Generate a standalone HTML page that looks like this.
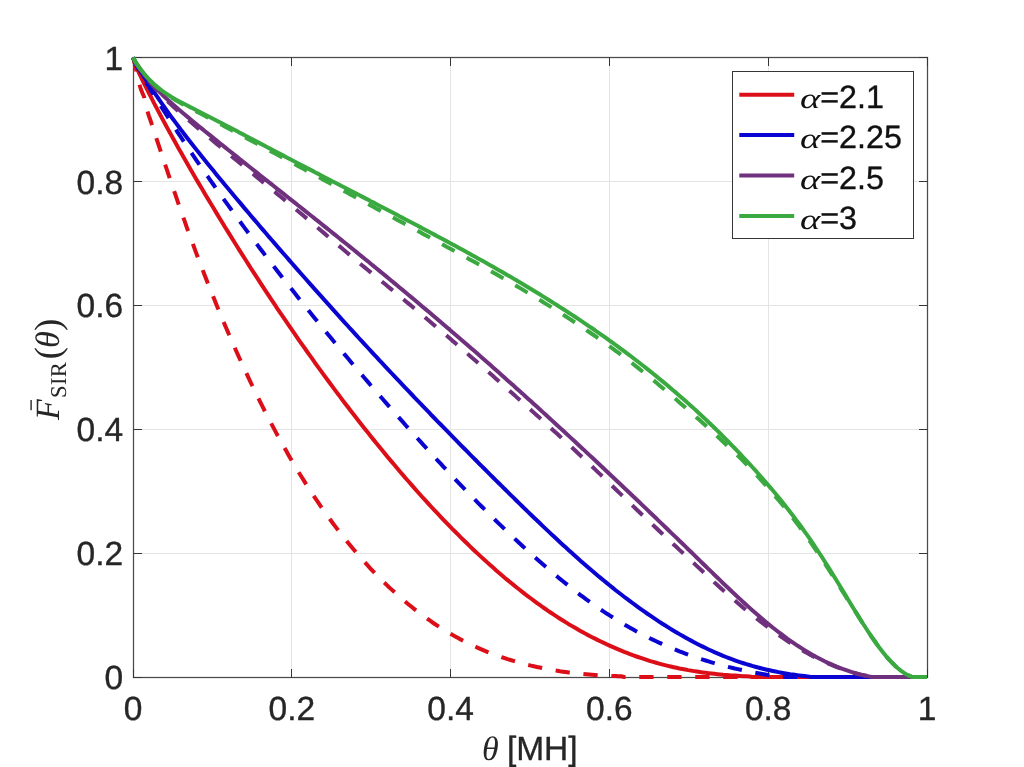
<!DOCTYPE html>
<html lang="en"><head><meta charset="utf-8"><title>SIR ccdf plot</title>
<style>
html,body{margin:0;padding:0;background:#fff;}
body{width:1024px;height:767px;overflow:hidden;}
svg{display:block;}
text{text-rendering:geometricPrecision;}
svg{will-change:transform;transform:translateZ(0);}
.t{font-family:"Liberation Sans", Arial, Helvetica, sans-serif;font-size:33.5px;fill:#262626;stroke:#262626;stroke-width:0.35px;}
.lg{font-family:"Liberation Sans", Arial, Helvetica, sans-serif;font-size:32.3px;fill:#111;stroke:#111;stroke-width:0.35px;}
.m{font-family:"Liberation Serif", "DejaVu Serif", serif;font-style:italic;}
.r{font-family:"Liberation Serif", "DejaVu Serif", serif;font-style:normal;}
</style></head><body>
<svg width="1024" height="767" viewBox="0 0 1024 767">
<rect width="1024" height="767" fill="#ffffff"/>

<g stroke="#e4e4e4" stroke-width="1" fill="none">
<line x1="291.50" y1="58" x2="291.50" y2="677"/>
<line x1="134" y1="553.50" x2="927" y2="553.50"/>
<line x1="450.50" y1="58" x2="450.50" y2="677"/>
<line x1="134" y1="429.50" x2="927" y2="429.50"/>
<line x1="609.50" y1="58" x2="609.50" y2="677"/>
<line x1="134" y1="305.50" x2="927" y2="305.50"/>
<line x1="768.50" y1="58" x2="768.50" y2="677"/>
<line x1="134" y1="181.50" x2="927" y2="181.50"/>
</g>
<rect x="133.5" y="57.5" width="794" height="620" fill="none" stroke="#4a4a4a" stroke-width="1.25"/>
<g stroke="#363636" stroke-width="1">
<line x1="133.50" y1="677.5" x2="133.50" y2="669.0"/>
<line x1="133.50" y1="57.5" x2="133.50" y2="66.0"/>
<line x1="133.5" y1="677.50" x2="142.0" y2="677.50"/>
<line x1="927.5" y1="677.50" x2="919.0" y2="677.50"/>
<line x1="291.50" y1="677.5" x2="291.50" y2="669.0"/>
<line x1="291.50" y1="57.5" x2="291.50" y2="66.0"/>
<line x1="133.5" y1="553.50" x2="142.0" y2="553.50"/>
<line x1="927.5" y1="553.50" x2="919.0" y2="553.50"/>
<line x1="450.50" y1="677.5" x2="450.50" y2="669.0"/>
<line x1="450.50" y1="57.5" x2="450.50" y2="66.0"/>
<line x1="133.5" y1="429.50" x2="142.0" y2="429.50"/>
<line x1="927.5" y1="429.50" x2="919.0" y2="429.50"/>
<line x1="609.50" y1="677.5" x2="609.50" y2="669.0"/>
<line x1="609.50" y1="57.5" x2="609.50" y2="66.0"/>
<line x1="133.5" y1="305.50" x2="142.0" y2="305.50"/>
<line x1="927.5" y1="305.50" x2="919.0" y2="305.50"/>
<line x1="768.50" y1="677.5" x2="768.50" y2="669.0"/>
<line x1="768.50" y1="57.5" x2="768.50" y2="66.0"/>
<line x1="133.5" y1="181.50" x2="142.0" y2="181.50"/>
<line x1="927.5" y1="181.50" x2="919.0" y2="181.50"/>
<line x1="927.50" y1="677.5" x2="927.50" y2="669.0"/>
<line x1="927.50" y1="57.5" x2="927.50" y2="66.0"/>
<line x1="133.5" y1="57.50" x2="142.0" y2="57.50"/>
<line x1="927.5" y1="57.50" x2="919.0" y2="57.50"/>
</g>
<!--CURVES-->
<clipPath id="cp"><rect x="131.0" y="55.5" width="798.0" height="623.5"/></clipPath>
<g fill="none" stroke-width="4" stroke-linejoin="round" clip-path="url(#cp)">
<path stroke="#dc0f18" d="M133.00 57.50 L134.59 62.52 L136.18 66.48 L137.76 70.14 L139.35 73.61 L140.94 77.01 L142.53 80.30 L144.12 83.52 L145.70 86.74 L147.29 89.90 L148.88 93.00 L150.47 96.16 L152.06 99.19 L153.64 102.29 L155.23 105.33 L156.82 108.36 L158.41 111.33 L160.00 114.37 L161.58 117.34 L163.17 120.32 L164.76 123.23 L166.35 126.20 L167.94 129.11 L169.52 132.03 L171.11 134.88 L172.70 137.79 L175.64 142.99 L178.50 148.19 L181.43 153.34 L184.37 158.48 L187.23 163.56 L190.17 168.64 L193.11 173.66 L195.96 178.67 L198.90 183.63 L201.84 188.52 L204.70 193.48 L207.64 198.37 L210.57 203.21 L213.51 208.04 L216.37 212.87 L219.31 217.70 L222.25 222.47 L225.10 227.18 L228.04 231.89 L230.98 236.60 L233.84 241.31 L236.78 245.95 L239.71 250.60 L242.57 255.18 L245.51 259.77 L248.45 264.35 L251.31 268.94 L254.24 273.46 L257.18 277.92 L260.04 282.38 L262.98 286.84 L265.92 291.30 L268.77 295.70 L271.71 300.10 L274.65 304.43 L277.51 308.83 L280.45 313.11 L283.38 317.44 L286.32 321.72 L289.18 325.93 L292.12 330.20 L295.06 334.42 L297.91 338.57 L300.85 342.78 L303.79 346.93 L306.65 351.02 L309.59 355.11 L312.52 359.20 L315.38 363.29 L318.32 367.31 L321.26 371.34 L324.12 375.30 L327.05 379.27 L329.99 383.23 L332.85 387.14 L335.79 391.10 L338.73 394.94 L341.58 398.84 L344.52 402.69 L347.46 406.46 L350.32 410.31 L353.26 414.02 L356.19 417.80 L359.05 421.52 L361.99 425.24 L364.93 428.95 L367.87 432.61 L370.72 436.26 L373.66 439.86 L376.60 443.45 L379.46 447.04 L382.40 450.57 L385.33 454.10 L388.19 457.64 L391.13 461.10 L394.07 464.57 L396.93 468.04 L399.86 471.45 L402.80 474.86 L405.66 478.20 L408.60 481.55 L411.54 484.89 L414.39 488.18 L417.33 491.46 L420.27 494.74 L423.13 497.96 L426.07 501.12 L429.00 504.35 L431.86 507.50 L434.80 510.60 L437.74 513.70 L440.68 516.80 L443.53 519.83 L446.47 522.87 L449.41 525.90 L452.27 528.88 L455.21 531.79 L458.14 534.70 L461.00 537.61 L463.94 540.46 L466.88 543.31 L469.74 546.16 L472.67 548.95 L475.61 551.68 L478.47 554.40 L481.41 557.13 L484.35 559.79 L487.20 562.39 L490.14 565.06 L493.08 567.60 L495.94 570.20 L498.88 572.68 L501.81 575.22 L504.67 577.69 L507.61 580.11 L510.55 582.53 L513.48 584.88 L516.34 587.23 L519.28 589.53 L522.22 591.82 L525.08 594.11 L528.01 596.34 L530.95 598.51 L533.81 600.68 L536.75 602.78 L539.69 604.89 L542.55 607.00 L545.48 608.98 L548.42 611.02 L551.28 613.01 L554.22 614.93 L557.15 616.85 L560.01 618.71 L562.95 620.56 L565.89 622.36 L568.75 624.16 L571.68 625.89 L574.62 627.56 L577.48 629.24 L580.42 630.91 L583.36 632.52 L586.22 634.13 L589.15 635.68 L592.09 637.17 L595.03 638.65 L597.89 640.14 L600.82 641.56 L603.76 642.93 L606.62 644.29 L609.56 645.65 L612.50 646.95 L615.36 648.19 L618.29 649.43 L621.23 650.67 L624.09 651.85 L627.03 652.96 L629.96 654.08 L632.82 655.19 L635.76 656.25 L638.70 657.24 L641.56 658.23 L644.49 659.22 L647.43 660.15 L650.29 661.08 L653.23 661.95 L656.17 662.75 L659.02 663.56 L661.96 664.36 L664.90 665.11 L667.84 665.85 L670.70 666.53 L673.63 667.21 L676.57 667.83 L679.43 668.45 L682.37 669.01 L685.31 669.57 L688.16 670.12 L691.10 670.62 L694.04 671.11 L696.90 671.55 L699.84 671.98 L702.77 672.42 L705.63 672.79 L708.57 673.16 L711.51 673.53 L714.37 673.84 L717.30 674.15 L720.24 674.40 L723.10 674.71 L726.04 674.96 L728.98 675.20 L731.83 675.39 L734.77 675.58 L737.71 675.76 L740.65 675.95 L743.51 676.13 L746.44 676.26 L749.38 676.38 L752.24 677.00 L755.18 677.00 L758.12 677.00 L760.97 677.00 L763.91 677.00 L766.85 677.00 L769.71 677.00 L772.65 677.00 L775.58 677.00 L778.44 677.00 L781.38 677.00 L784.32 677.00 L787.18 677.00 L790.11 677.00 L793.05 677.00 L795.91 677.00 L798.85 677.00 L801.79 677.00 L804.64 677.00 L807.58 677.00 L810.52 677.00 L813.38 677.00 L816.32 677.00 L819.25 677.00 L822.19 677.00 L825.05 677.00 L827.99 677.00 L830.93 677.00 L833.78 677.00 L836.72 677.00 L839.66 677.00 L842.52 677.00 L845.46 677.00 L848.39 677.00 L851.25 677.00 L854.19 677.00 L857.13 677.00 L859.99 677.00 L862.92 677.00 L865.86 677.00 L868.72 677.00 L871.66 677.00 L874.60 677.00 L877.45 677.00 L880.39 677.00 L883.33 677.00 L886.19 677.00 L889.13 677.00 L892.06 677.00 L895.00 677.00 L897.86 677.00 L900.80 677.00 L903.74 677.00 L906.59 677.00 L909.53 677.00 L912.47 677.00 L915.33 677.00 L918.27 677.00 L921.20 677.00 L924.06 677.00 L927.00 677.00"/>
<path stroke="#dc0f18" stroke-dasharray="14.3 13.7" d="M133.00 57.50 L134.59 62.70 L136.18 70.01 L137.76 77.45 L139.35 84.14 L140.94 89.53 L142.53 93.25 L144.12 97.02 L145.70 103.34 L147.29 110.65 L148.88 115.86 L150.47 120.26 L152.06 125.03 L153.64 129.92 L155.23 134.75 L156.82 139.58 L158.41 144.42 L160.00 149.19 L161.58 153.96 L163.17 158.73 L164.76 163.50 L166.35 168.20 L167.94 172.91 L169.52 177.62 L171.11 182.27 L172.70 186.91 L175.64 195.40 L178.50 203.83 L181.43 212.13 L184.37 220.37 L187.23 228.54 L190.17 236.60 L193.11 244.53 L195.96 252.39 L198.90 260.14 L201.84 267.76 L204.70 275.32 L207.64 282.75 L210.57 290.12 L213.51 297.37 L216.37 304.56 L219.31 311.62 L222.25 318.62 L225.10 325.50 L228.04 332.31 L230.98 339.06 L233.84 345.69 L236.78 352.20 L239.71 358.70 L242.57 365.08 L245.51 371.40 L248.45 377.60 L251.31 383.73 L254.24 389.80 L257.18 395.75 L260.04 401.63 L262.98 407.46 L265.92 413.22 L268.77 418.85 L271.71 424.43 L274.65 429.88 L277.51 435.33 L280.45 440.66 L283.38 445.93 L286.32 451.07 L289.18 456.15 L292.12 461.17 L295.06 466.12 L297.91 470.95 L300.85 475.72 L303.79 480.43 L306.65 485.08 L309.59 489.60 L312.52 494.06 L315.38 498.46 L318.32 502.73 L321.26 507.01 L324.12 511.16 L327.05 515.25 L329.99 519.28 L332.85 523.24 L335.79 527.14 L338.73 530.98 L341.58 534.70 L344.52 538.42 L347.46 542.07 L350.32 545.60 L353.26 549.07 L356.19 552.54 L359.05 555.89 L361.99 559.23 L364.93 562.45 L367.87 565.68 L370.72 568.77 L373.66 571.87 L376.60 574.91 L379.46 577.88 L382.40 580.73 L385.33 583.58 L388.19 586.43 L391.13 589.15 L394.07 591.82 L396.93 594.42 L399.86 597.02 L402.80 599.56 L405.66 602.04 L408.60 604.46 L411.54 606.81 L414.39 609.10 L417.33 611.39 L420.27 613.63 L423.13 615.79 L426.07 617.90 L429.00 619.94 L431.86 621.99 L434.80 623.97 L437.74 625.89 L440.68 627.75 L443.53 629.61 L446.47 631.34 L449.41 633.08 L452.27 634.81 L455.21 636.42 L458.14 638.03 L461.00 639.64 L463.94 641.13 L466.88 642.62 L469.74 644.04 L472.67 645.41 L475.61 646.77 L478.47 648.07 L481.41 649.37 L484.35 650.61 L487.20 651.79 L490.14 652.96 L493.08 654.08 L495.94 655.13 L498.88 656.18 L501.81 657.24 L504.67 658.17 L507.61 659.16 L510.55 660.03 L513.48 660.95 L516.34 661.82 L519.28 662.63 L522.22 663.43 L525.08 664.18 L528.01 664.92 L530.95 665.60 L533.81 666.28 L536.75 666.96 L539.69 667.58 L542.55 668.14 L545.48 668.70 L548.42 669.26 L551.28 669.81 L554.22 670.31 L557.15 670.74 L560.01 671.24 L562.95 671.67 L565.89 672.04 L568.75 672.48 L571.68 672.79 L574.62 673.16 L577.48 673.47 L580.42 673.78 L583.36 674.09 L586.22 674.34 L589.15 674.58 L592.09 674.83 L595.03 675.02 L597.89 675.27 L600.82 675.39 L603.76 675.58 L606.62 675.76 L609.56 675.88 L612.50 676.01 L615.36 676.07 L618.29 676.19 L621.23 676.26 L624.09 677.00 L627.03 677.00 L629.96 677.00 L632.82 677.00 L635.76 677.00 L638.70 677.00 L641.56 677.00 L644.49 677.00 L647.43 677.00 L650.29 677.00 L653.23 677.00 L656.17 677.00 L659.02 677.00 L661.96 677.00 L664.90 677.00 L667.84 677.00 L670.70 677.00 L673.63 677.00 L676.57 677.00 L679.43 677.00 L682.37 677.00 L685.31 677.00 L688.16 677.00 L691.10 677.00 L694.04 677.00 L696.90 677.00 L699.84 677.00 L702.77 677.00 L705.63 677.00 L708.57 677.00 L711.51 677.00 L714.37 677.00 L717.30 677.00 L720.24 677.00 L723.10 677.00 L726.04 677.00 L728.98 677.00 L731.83 677.00 L734.77 677.00 L737.71 677.00 L740.65 677.00 L743.51 677.00 L746.44 677.00 L749.38 677.00 L752.24 677.00 L755.18 677.00 L758.12 677.00 L760.97 677.00 L763.91 677.00 L766.85 677.00 L769.71 677.00 L772.65 677.00 L775.58 677.00 L778.44 677.00 L781.38 677.00 L784.32 677.00 L787.18 677.00 L790.11 677.00 L793.05 677.00 L795.91 677.00 L798.85 677.00 L801.79 677.00 L804.64 677.00 L807.58 677.00 L810.52 677.00 L813.38 677.00 L816.32 677.00 L819.25 677.00 L822.19 677.00 L825.05 677.00 L827.99 677.00 L830.93 677.00 L833.78 677.00 L836.72 677.00 L839.66 677.00 L842.52 677.00 L845.46 677.00 L848.39 677.00 L851.25 677.00 L854.19 677.00 L857.13 677.00 L859.99 677.00 L862.92 677.00 L865.86 677.00 L868.72 677.00 L871.66 677.00 L874.60 677.00 L877.45 677.00 L880.39 677.00 L883.33 677.00 L886.19 677.00 L889.13 677.00 L892.06 677.00 L895.00 677.00 L897.86 677.00 L900.80 677.00 L903.74 677.00 L906.59 677.00 L909.53 677.00 L912.47 677.00 L915.33 677.00 L918.27 677.00 L921.20 677.00 L924.06 677.00 L927.00 677.00"/>
<path stroke="#0a04d2" d="M133.00 57.50 L134.59 60.91 L136.18 63.88 L137.76 66.67 L139.35 69.33 L140.94 71.87 L142.53 74.41 L144.12 76.95 L145.70 79.43 L147.29 81.85 L148.88 84.32 L150.47 86.74 L152.06 89.09 L153.64 91.51 L155.23 93.86 L156.82 96.22 L158.41 98.51 L160.00 100.87 L161.58 103.16 L163.17 105.39 L164.76 107.68 L166.35 109.91 L167.94 112.14 L169.52 114.31 L171.11 116.54 L172.70 118.71 L175.64 122.61 L178.50 126.51 L181.43 130.35 L184.37 134.19 L187.23 137.97 L190.17 141.69 L193.11 145.41 L195.96 149.12 L198.90 152.78 L201.84 156.43 L204.70 160.09 L207.64 163.68 L210.57 167.28 L213.51 170.81 L216.37 174.40 L219.31 177.93 L222.25 181.46 L225.10 184.99 L228.04 188.46 L230.98 191.99 L233.84 195.46 L236.78 198.93 L239.71 202.40 L242.57 205.87 L245.51 209.34 L248.45 212.75 L251.31 216.22 L254.24 219.62 L257.18 223.03 L260.04 226.44 L262.98 229.84 L265.92 233.25 L268.77 236.66 L271.71 240.00 L274.65 243.41 L277.51 246.76 L280.45 250.10 L283.38 253.45 L286.32 256.79 L289.18 260.14 L292.12 263.48 L295.06 266.83 L297.91 270.11 L300.85 273.46 L303.79 276.74 L306.65 280.02 L309.59 283.31 L312.52 286.59 L315.38 289.87 L318.32 293.16 L321.26 296.44 L324.12 299.66 L327.05 302.95 L329.99 306.17 L332.85 309.39 L335.79 312.67 L338.73 315.89 L341.58 319.11 L344.52 322.27 L347.46 325.50 L350.32 328.72 L353.26 331.88 L356.19 335.10 L359.05 338.26 L361.99 341.42 L364.93 344.58 L367.87 347.74 L370.72 350.90 L373.66 354.05 L376.60 357.15 L379.46 360.31 L382.40 363.41 L385.33 366.51 L388.19 369.60 L391.13 372.76 L394.07 375.86 L396.93 378.90 L399.86 381.99 L402.80 385.09 L405.66 388.13 L408.60 391.22 L411.54 394.26 L414.39 397.30 L417.33 400.33 L420.27 403.37 L423.13 406.40 L426.07 409.44 L429.00 412.47 L431.86 415.51 L434.80 418.48 L437.74 421.52 L440.68 424.49 L443.53 427.47 L446.47 430.44 L449.41 433.47 L452.27 436.45 L455.21 439.42 L458.14 442.33 L461.00 445.31 L463.94 448.28 L466.88 451.19 L469.74 454.17 L472.67 457.08 L475.61 459.99 L478.47 462.96 L481.41 465.87 L484.35 468.79 L487.20 471.70 L490.14 474.61 L493.08 477.52 L495.94 480.37 L498.88 483.28 L501.81 486.19 L504.67 489.04 L507.61 491.89 L510.55 494.81 L513.48 497.65 L516.34 500.50 L519.28 503.35 L522.22 506.20 L525.08 509.05 L528.01 511.84 L530.95 514.69 L533.81 517.48 L536.75 520.27 L539.69 523.05 L542.55 525.84 L545.48 528.63 L548.42 531.36 L551.28 534.08 L554.22 536.81 L557.15 539.53 L560.01 542.26 L562.95 544.92 L565.89 547.59 L568.75 550.25 L571.68 552.85 L574.62 555.45 L577.48 558.06 L580.42 560.66 L583.36 563.20 L586.22 565.74 L589.15 568.28 L592.09 570.76 L595.03 573.23 L597.89 575.71 L600.82 578.13 L603.76 580.54 L606.62 582.90 L609.56 585.25 L612.50 587.61 L615.36 589.96 L618.29 592.25 L621.23 594.48 L624.09 596.71 L627.03 598.94 L629.96 601.11 L632.82 603.28 L635.76 605.45 L638.70 607.55 L641.56 609.66 L644.49 611.70 L647.43 613.75 L650.29 615.73 L653.23 617.71 L656.17 619.63 L659.02 621.55 L661.96 623.48 L664.90 625.27 L667.84 627.13 L670.70 628.93 L673.63 630.66 L676.57 632.46 L679.43 634.13 L682.37 635.80 L685.31 637.48 L688.16 639.09 L691.10 640.64 L694.04 642.18 L696.90 643.67 L699.84 645.16 L702.77 646.64 L705.63 648.01 L708.57 649.43 L711.51 650.80 L714.37 652.10 L717.30 653.34 L720.24 654.57 L723.10 655.81 L726.04 656.99 L728.98 658.11 L731.83 659.22 L734.77 660.27 L737.71 661.33 L740.65 662.32 L743.51 663.25 L746.44 664.18 L749.38 665.04 L752.24 665.91 L755.18 666.72 L758.12 667.52 L760.97 668.27 L763.91 669.01 L766.85 669.69 L769.71 670.31 L772.65 670.93 L775.58 671.55 L778.44 672.11 L781.38 672.66 L784.32 673.16 L787.18 673.65 L790.11 674.15 L793.05 674.58 L795.91 674.96 L798.85 675.39 L801.79 675.76 L804.64 676.07 L807.58 676.38 L810.52 677.00 L813.38 677.00 L816.32 677.00 L819.25 677.00 L822.19 677.00 L825.05 677.00 L827.99 677.00 L830.93 677.00 L833.78 677.00 L836.72 677.00 L839.66 677.00 L842.52 677.00 L845.46 677.00 L848.39 677.00 L851.25 677.00 L854.19 677.00 L857.13 677.00 L859.99 677.00 L862.92 677.00 L865.86 677.00 L868.72 677.00 L871.66 677.00 L874.60 677.00 L877.45 677.00 L880.39 677.00 L883.33 677.00 L886.19 677.00 L889.13 677.00 L892.06 677.00 L895.00 677.00 L897.86 677.00 L900.80 677.00 L903.74 677.00 L906.59 677.00 L909.53 677.00 L912.47 677.00 L915.33 677.00 L918.27 677.00 L921.20 677.00 L924.06 677.00 L927.00 677.00"/>
<path stroke="#0a04d2" stroke-dasharray="14.3 13.7" d="M133.00 57.50 L134.59 61.40 L136.18 64.69 L137.76 67.72 L139.35 70.63 L140.94 73.42 L142.53 76.21 L144.12 78.87 L145.70 81.54 L147.29 84.20 L148.88 86.80 L150.47 89.40 L152.06 92.01 L153.64 94.61 L155.23 97.15 L156.82 99.69 L158.41 102.23 L160.00 104.77 L161.58 107.31 L163.17 109.79 L164.76 112.26 L166.35 114.80 L167.94 117.28 L169.52 119.76 L171.11 122.18 L172.70 124.65 L175.64 129.11 L178.50 133.57 L181.43 137.97 L184.37 142.37 L187.23 146.71 L190.17 151.04 L193.11 155.32 L195.96 159.59 L198.90 163.87 L201.84 168.08 L204.70 172.29 L207.64 176.44 L210.57 180.66 L213.51 184.75 L216.37 188.90 L219.31 192.98 L222.25 197.07 L225.10 201.16 L228.04 205.19 L230.98 209.22 L233.84 213.24 L236.78 217.21 L239.71 221.17 L242.57 225.14 L245.51 229.10 L248.45 233.00 L251.31 236.91 L254.24 240.81 L257.18 244.65 L260.04 248.49 L262.98 252.33 L265.92 256.17 L268.77 259.95 L271.71 263.73 L274.65 267.51 L277.51 271.29 L280.45 275.07 L283.38 278.79 L286.32 282.50 L289.18 286.22 L292.12 289.87 L295.06 293.59 L297.91 297.25 L300.85 300.90 L303.79 304.56 L306.65 308.21 L309.59 311.80 L312.52 315.40 L315.38 318.99 L318.32 322.58 L321.26 326.18 L324.12 329.71 L327.05 333.30 L329.99 336.83 L332.85 340.36 L335.79 343.83 L338.73 347.36 L341.58 350.90 L344.52 354.36 L347.46 357.83 L350.32 361.30 L353.26 364.77 L356.19 368.18 L359.05 371.65 L361.99 375.06 L364.93 378.46 L367.87 381.87 L370.72 385.28 L373.66 388.62 L376.60 392.03 L379.46 395.38 L382.40 398.72 L385.33 402.07 L388.19 405.41 L391.13 408.76 L394.07 412.04 L396.93 415.39 L399.86 418.67 L402.80 421.95 L405.66 425.24 L408.60 428.46 L411.54 431.74 L414.39 434.96 L417.33 438.24 L420.27 441.47 L423.13 444.69 L426.07 447.85 L429.00 451.07 L431.86 454.23 L434.80 457.39 L437.74 460.55 L440.68 463.71 L443.53 466.87 L446.47 469.96 L449.41 473.06 L452.27 476.16 L455.21 479.26 L458.14 482.29 L461.00 485.33 L463.94 488.36 L466.88 491.40 L469.74 494.37 L472.67 497.41 L475.61 500.38 L478.47 503.29 L481.41 506.27 L484.35 509.18 L487.20 512.09 L490.14 515.00 L493.08 517.85 L495.94 520.76 L498.88 523.61 L501.81 526.40 L504.67 529.25 L507.61 532.04 L510.55 534.82 L513.48 537.55 L516.34 540.28 L519.28 543.00 L522.22 545.73 L525.08 548.39 L528.01 551.06 L530.95 553.72 L533.81 556.32 L536.75 558.92 L539.69 561.53 L542.55 564.07 L545.48 566.61 L548.42 569.15 L551.28 571.62 L554.22 574.10 L557.15 576.52 L560.01 578.93 L562.95 581.29 L565.89 583.64 L568.75 586.00 L571.68 588.29 L574.62 590.58 L577.48 592.81 L580.42 595.04 L583.36 597.21 L586.22 599.38 L589.15 601.48 L592.09 603.59 L595.03 605.63 L597.89 607.68 L600.82 609.66 L603.76 611.64 L606.62 613.56 L609.56 615.42 L612.50 617.28 L615.36 619.14 L618.29 620.94 L621.23 622.67 L624.09 624.40 L627.03 626.08 L629.96 627.75 L632.82 629.36 L635.76 630.97 L638.70 632.52 L641.56 634.07 L644.49 635.56 L647.43 637.04 L650.29 638.47 L653.23 639.89 L656.17 641.25 L659.02 642.62 L661.96 643.92 L664.90 645.22 L667.84 646.52 L670.70 647.76 L673.63 648.94 L676.57 650.11 L679.43 651.29 L682.37 652.41 L685.31 653.52 L688.16 654.57 L691.10 655.63 L694.04 656.68 L696.90 657.67 L699.84 658.66 L702.77 659.59 L705.63 660.52 L708.57 661.45 L711.51 662.32 L714.37 663.12 L717.30 663.99 L720.24 664.80 L723.10 665.60 L726.04 666.34 L728.98 667.09 L731.83 667.77 L734.77 668.51 L737.71 669.13 L740.65 669.81 L743.51 670.43 L746.44 671.05 L749.38 671.67 L752.24 672.23 L755.18 672.79 L758.12 673.28 L760.97 673.78 L763.91 674.27 L766.85 674.77 L769.71 675.20 L772.65 675.64 L775.58 676.07 L778.44 676.44 L781.38 677.00 L784.32 677.00 L787.18 677.00 L790.11 677.00 L793.05 677.00 L795.91 677.00 L798.85 677.00 L801.79 677.00 L804.64 677.00 L807.58 677.00 L810.52 677.00 L813.38 677.00 L816.32 677.00 L819.25 677.00 L822.19 677.00 L825.05 677.00 L827.99 677.00 L830.93 677.00 L833.78 677.00 L836.72 677.00 L839.66 677.00 L842.52 677.00 L845.46 677.00 L848.39 677.00 L851.25 677.00 L854.19 677.00 L857.13 677.00 L859.99 677.00 L862.92 677.00 L865.86 677.00 L868.72 677.00 L871.66 677.00 L874.60 677.00 L877.45 677.00 L880.39 677.00 L883.33 677.00 L886.19 677.00 L889.13 677.00 L892.06 677.00 L895.00 677.00 L897.86 677.00 L900.80 677.00 L903.74 677.00 L906.59 677.00 L909.53 677.00 L912.47 677.00 L915.33 677.00 L918.27 677.00 L921.20 677.00 L924.06 677.00 L927.00 677.00"/>
<path stroke="#6f307d" d="M133.00 57.50 L134.59 60.72 L136.18 63.39 L137.76 65.80 L139.35 68.03 L140.94 70.20 L142.53 72.31 L144.12 74.41 L145.70 76.39 L147.29 78.32 L148.88 80.24 L150.47 82.09 L152.06 83.89 L153.64 85.69 L155.23 87.42 L156.82 89.09 L158.41 90.77 L160.00 92.38 L161.58 93.93 L163.17 95.48 L164.76 96.96 L166.35 98.51 L167.94 99.94 L169.52 101.42 L171.11 102.85 L172.70 104.21 L175.64 106.75 L178.50 109.29 L181.43 111.77 L184.37 114.18 L187.23 116.60 L190.17 119.02 L193.11 121.43 L195.96 123.85 L198.90 126.20 L201.84 128.62 L204.70 130.97 L207.64 133.33 L210.57 135.68 L213.51 138.03 L216.37 140.39 L219.31 142.74 L222.25 145.04 L225.10 147.39 L228.04 149.74 L230.98 152.04 L233.84 154.39 L236.78 156.68 L239.71 159.04 L242.57 161.33 L245.51 163.62 L248.45 165.97 L251.31 168.27 L254.24 170.56 L257.18 172.91 L260.04 175.20 L262.98 177.50 L265.92 179.85 L268.77 182.14 L271.71 184.44 L274.65 186.73 L277.51 189.08 L280.45 191.37 L283.38 193.67 L286.32 195.96 L289.18 198.31 L292.12 200.60 L295.06 202.90 L297.91 205.25 L300.85 207.54 L303.79 209.84 L306.65 212.19 L309.59 214.48 L312.52 216.77 L315.38 219.13 L318.32 221.42 L321.26 223.77 L324.12 226.07 L327.05 228.42 L329.99 230.77 L332.85 233.07 L335.79 235.42 L338.73 237.77 L341.58 240.13 L344.52 242.48 L347.46 244.77 L350.32 247.13 L353.26 249.48 L356.19 251.90 L359.05 254.25 L361.99 256.61 L364.93 258.96 L367.87 261.32 L370.72 263.73 L373.66 266.09 L376.60 268.50 L379.46 270.86 L382.40 273.27 L385.33 275.63 L388.19 278.04 L391.13 280.46 L394.07 282.87 L396.93 285.29 L399.86 287.71 L402.80 290.12 L405.66 292.54 L408.60 294.95 L411.54 297.37 L414.39 299.79 L417.33 302.26 L420.27 304.68 L423.13 307.16 L426.07 309.64 L429.00 312.05 L431.86 314.53 L434.80 317.01 L437.74 319.49 L440.68 321.96 L443.53 324.44 L446.47 326.92 L449.41 329.40 L452.27 331.94 L455.21 334.42 L458.14 336.96 L461.00 339.43 L463.94 341.97 L466.88 344.45 L469.74 346.99 L472.67 349.53 L475.61 352.07 L478.47 354.61 L481.41 357.15 L484.35 359.75 L487.20 362.29 L490.14 364.83 L493.08 367.44 L495.94 369.98 L498.88 372.58 L501.81 375.18 L504.67 377.78 L507.61 380.38 L510.55 382.99 L513.48 385.59 L516.34 388.19 L519.28 390.79 L522.22 393.39 L525.08 396.06 L528.01 398.66 L530.95 401.26 L533.81 403.92 L536.75 406.59 L539.69 409.19 L542.55 411.85 L545.48 414.52 L548.42 417.18 L551.28 419.85 L554.22 422.51 L557.15 425.17 L560.01 427.84 L562.95 430.56 L565.89 433.23 L568.75 435.89 L571.68 438.62 L574.62 441.28 L577.48 444.01 L580.42 446.73 L583.36 449.40 L586.22 452.12 L589.15 454.85 L592.09 457.57 L595.03 460.30 L597.89 463.02 L600.82 465.75 L603.76 468.48 L606.62 471.20 L609.56 473.99 L612.50 476.72 L615.36 479.44 L618.29 482.23 L621.23 484.96 L624.09 487.74 L627.03 490.47 L629.96 493.26 L632.82 496.04 L635.76 498.77 L638.70 501.56 L641.56 504.35 L644.49 507.13 L647.43 509.92 L650.29 512.71 L653.23 515.50 L656.17 518.28 L659.02 521.07 L661.96 523.92 L664.90 526.71 L667.84 529.50 L670.70 532.35 L673.63 535.13 L676.57 537.92 L679.43 540.77 L682.37 543.56 L685.31 546.41 L688.16 549.26 L691.10 552.05 L694.04 554.90 L696.90 557.75 L699.84 560.60 L702.77 563.45 L705.63 566.23 L708.57 569.08 L711.51 571.93 L714.37 574.78 L717.30 577.57 L720.24 580.42 L723.10 583.21 L726.04 586.00 L728.98 588.72 L731.83 591.51 L734.77 594.23 L737.71 596.96 L740.65 599.62 L743.51 602.35 L746.44 604.95 L749.38 607.62 L752.24 610.22 L755.18 612.76 L758.12 615.30 L760.97 617.78 L763.91 620.25 L766.85 622.67 L769.71 625.09 L772.65 627.44 L775.58 629.73 L778.44 631.96 L781.38 634.19 L784.32 636.36 L787.18 638.53 L790.11 640.57 L793.05 642.62 L795.91 644.60 L798.85 646.52 L801.79 648.38 L804.64 650.24 L807.58 651.97 L810.52 653.71 L813.38 655.38 L816.32 656.93 L819.25 658.48 L822.19 659.96 L825.05 661.45 L827.99 662.81 L830.93 664.11 L833.78 665.42 L836.72 666.65 L839.66 667.77 L842.52 668.88 L845.46 669.94 L848.39 670.93 L851.25 671.86 L854.19 672.79 L857.13 673.59 L859.99 674.40 L862.92 675.08 L865.86 675.76 L868.72 676.38 L871.66 677.00 L874.60 677.00 L877.45 677.00 L880.39 677.00 L883.33 677.00 L886.19 677.00 L889.13 677.00 L892.06 677.00 L895.00 677.00 L897.86 677.00 L900.80 677.00 L903.74 677.00 L906.59 677.00 L909.53 677.00 L912.47 677.00 L915.33 677.00 L918.27 677.00 L921.20 677.00 L924.06 677.00 L927.00 677.00"/>
<path stroke="#6f307d" stroke-dasharray="14.3 13.7" d="M133.00 57.50 L134.59 60.78 L136.18 63.57 L137.76 66.05 L139.35 68.34 L140.94 70.63 L142.53 72.80 L144.12 74.97 L145.70 77.08 L147.29 79.06 L148.88 81.04 L150.47 83.02 L152.06 84.88 L153.64 86.74 L155.23 88.54 L156.82 90.27 L158.41 92.01 L160.00 93.74 L161.58 95.35 L163.17 96.96 L164.76 98.51 L166.35 100.12 L167.94 101.61 L169.52 103.16 L171.11 104.64 L172.70 106.07 L175.64 108.73 L178.50 111.33 L181.43 113.94 L184.37 116.41 L187.23 118.95 L190.17 121.43 L193.11 123.97 L195.96 126.45 L198.90 128.93 L201.84 131.41 L204.70 133.82 L207.64 136.30 L210.57 138.72 L213.51 141.19 L216.37 143.61 L219.31 146.03 L222.25 148.44 L225.10 150.86 L228.04 153.34 L230.98 155.69 L233.84 158.17 L236.78 160.52 L239.71 162.94 L242.57 165.35 L245.51 167.71 L248.45 170.19 L251.31 172.54 L254.24 174.90 L257.18 177.37 L260.04 179.73 L262.98 182.14 L265.92 184.56 L268.77 186.98 L271.71 189.33 L274.65 191.75 L277.51 194.16 L280.45 196.58 L283.38 198.93 L286.32 201.35 L289.18 203.83 L292.12 206.18 L295.06 208.60 L297.91 211.07 L300.85 213.49 L303.79 215.91 L306.65 218.38 L309.59 220.80 L312.52 223.28 L315.38 225.76 L318.32 228.23 L321.26 230.71 L324.12 233.13 L327.05 235.67 L329.99 238.15 L332.85 240.62 L335.79 243.10 L338.73 245.58 L341.58 248.06 L344.52 250.54 L347.46 252.95 L350.32 255.43 L353.26 257.85 L356.19 260.39 L359.05 262.80 L361.99 265.22 L364.93 267.57 L367.87 269.99 L370.72 272.40 L373.66 274.76 L376.60 277.17 L379.46 279.53 L382.40 281.94 L385.33 284.30 L388.19 286.71 L391.13 289.13 L394.07 291.55 L396.93 293.96 L399.86 296.38 L402.80 298.80 L405.66 301.21 L408.60 303.63 L411.54 306.04 L414.39 308.46 L417.33 310.94 L420.27 313.35 L423.13 315.83 L426.07 318.31 L429.00 320.73 L431.86 323.20 L434.80 325.68 L437.74 328.16 L440.68 330.64 L443.53 333.12 L446.47 335.59 L449.41 338.07 L452.27 340.61 L455.21 343.09 L458.14 345.63 L461.00 348.11 L463.94 350.65 L466.88 353.13 L469.74 355.67 L472.67 358.21 L475.61 360.75 L478.47 363.29 L481.41 365.83 L484.35 368.43 L487.20 370.97 L490.14 373.51 L493.08 376.11 L495.94 378.65 L498.88 381.25 L501.81 383.85 L504.67 386.45 L507.61 389.06 L510.55 391.66 L513.48 394.26 L516.34 396.86 L519.28 399.46 L522.22 402.07 L525.08 404.73 L528.01 407.33 L530.95 409.93 L533.81 412.60 L536.75 415.26 L539.69 417.86 L542.55 420.53 L545.48 423.19 L548.42 425.85 L551.28 428.52 L554.22 431.18 L557.15 433.85 L560.01 436.51 L562.95 439.24 L565.89 441.90 L568.75 444.56 L571.68 447.29 L574.62 449.95 L577.48 452.74 L580.42 455.47 L583.36 458.19 L586.22 460.98 L589.15 463.77 L592.09 466.56 L595.03 469.34 L597.89 472.13 L600.82 474.92 L603.76 477.71 L606.62 480.49 L609.56 483.41 L612.50 486.19 L615.36 488.98 L618.29 491.83 L621.23 494.62 L624.09 497.47 L627.03 500.26 L629.96 503.11 L632.82 505.89 L635.76 508.68 L638.70 511.47 L641.56 514.26 L644.49 517.05 L647.43 519.83 L650.29 522.56 L653.23 525.28 L656.17 528.07 L659.02 530.80 L661.96 533.52 L664.90 536.25 L667.84 538.98 L670.70 541.70 L673.63 544.43 L676.57 547.09 L679.43 549.88 L682.37 552.54 L685.31 555.27 L688.16 557.99 L691.10 560.66 L694.04 563.38 L696.90 566.11 L699.84 568.84 L702.77 571.56 L705.63 574.22 L708.57 576.95 L711.51 579.68 L714.37 582.34 L717.30 585.00 L720.24 587.67 L723.10 590.27 L726.04 592.87 L728.98 595.35 L731.83 597.95 L734.77 600.49 L737.71 603.03 L740.65 605.45 L743.51 607.99 L746.44 610.40 L749.38 612.82 L752.24 615.17 L755.18 617.47 L758.12 619.76 L760.97 621.99 L763.91 624.22 L766.85 626.39 L769.71 628.56 L772.65 630.66 L775.58 632.77 L778.44 634.75 L781.38 636.79 L784.32 638.84 L787.18 640.82 L790.11 642.74 L793.05 644.66 L795.91 646.46 L798.85 648.26 L801.79 649.99 L804.64 651.72 L807.58 653.34 L810.52 654.95 L813.38 656.56 L816.32 657.98 L819.25 659.41 L822.19 660.83 L825.05 662.26 L827.99 663.49 L830.93 664.73 L833.78 665.97 L836.72 667.15 L839.66 668.20 L842.52 669.26 L845.46 670.25 L848.39 671.18 L851.25 672.04 L854.19 672.97 L857.13 673.72 L859.99 674.46 L862.92 675.14 L865.86 675.76 L868.72 676.38 L871.66 677.00 L874.60 677.00 L877.45 677.00 L880.39 677.00 L883.33 677.00 L886.19 677.00 L889.13 677.00 L892.06 677.00 L895.00 677.00 L897.86 677.00 L900.80 677.00 L903.74 677.00 L906.59 677.00 L909.53 677.00 L912.47 677.00 L915.33 677.00 L918.27 677.00 L921.20 677.00 L924.06 677.00 L927.00 677.00"/>
<path stroke="#39a940" d="M133.00 57.50 L134.59 60.41 L136.18 62.95 L137.76 65.31 L139.35 67.54 L140.94 69.70 L142.53 71.75 L144.12 73.73 L145.70 75.59 L147.29 77.39 L148.88 79.06 L150.47 80.73 L152.06 82.28 L153.64 83.77 L155.23 85.19 L156.82 86.55 L158.41 87.86 L160.00 89.09 L161.58 90.33 L163.17 91.51 L164.76 92.63 L166.35 93.68 L167.94 94.73 L169.52 95.72 L171.11 96.71 L172.70 97.64 L175.64 99.38 L178.50 100.99 L181.43 102.54 L184.37 104.09 L187.23 105.57 L190.17 107.12 L193.11 108.55 L195.96 110.03 L198.90 111.52 L201.84 113.01 L204.70 114.49 L207.64 115.98 L210.57 117.47 L213.51 118.95 L216.37 120.50 L219.31 121.99 L222.25 123.48 L225.10 125.03 L228.04 126.51 L230.98 128.06 L233.84 129.55 L236.78 131.10 L239.71 132.65 L242.57 134.13 L245.51 135.68 L248.45 137.23 L251.31 138.72 L254.24 140.27 L257.18 141.81 L260.04 143.36 L262.98 144.85 L265.92 146.40 L268.77 147.95 L271.71 149.50 L274.65 151.04 L277.51 152.53 L280.45 154.08 L283.38 155.63 L286.32 157.18 L289.18 158.66 L292.12 160.21 L295.06 161.76 L297.91 163.31 L300.85 164.80 L303.79 166.35 L306.65 167.83 L309.59 169.38 L312.52 170.87 L315.38 172.42 L318.32 173.90 L321.26 175.45 L324.12 176.94 L327.05 178.49 L329.99 179.98 L332.85 181.52 L335.79 183.01 L338.73 184.50 L341.58 186.05 L344.52 187.53 L347.46 189.08 L350.32 190.57 L353.26 192.06 L356.19 193.60 L359.05 195.09 L361.99 196.64 L364.93 198.13 L367.87 199.61 L370.72 201.16 L373.66 202.65 L376.60 204.20 L379.46 205.68 L382.40 207.23 L385.33 208.72 L388.19 210.27 L391.13 211.82 L394.07 213.30 L396.93 214.85 L399.86 216.40 L402.80 217.89 L405.66 219.44 L408.60 220.99 L411.54 222.53 L414.39 224.02 L417.33 225.57 L420.27 227.12 L423.13 228.67 L426.07 230.22 L429.00 231.77 L431.86 233.31 L434.80 234.86 L437.74 236.41 L440.68 238.02 L443.53 239.57 L446.47 241.12 L449.41 242.67 L452.27 244.28 L455.21 245.83 L458.14 247.44 L461.00 248.99 L463.94 250.60 L466.88 252.21 L469.74 253.82 L472.67 255.43 L475.61 257.04 L478.47 258.65 L481.41 260.26 L484.35 261.87 L487.20 263.55 L490.14 265.16 L493.08 266.83 L495.94 268.50 L498.88 270.17 L501.81 271.85 L504.67 273.52 L507.61 275.19 L510.55 276.86 L513.48 278.60 L516.34 280.27 L519.28 282.01 L522.22 283.74 L525.08 285.48 L528.01 287.21 L530.95 289.01 L533.81 290.74 L536.75 292.54 L539.69 294.27 L542.55 296.07 L545.48 297.93 L548.42 299.72 L551.28 301.52 L554.22 303.38 L557.15 305.24 L560.01 307.10 L562.95 308.96 L565.89 310.81 L568.75 312.73 L571.68 314.59 L574.62 316.51 L577.48 318.43 L580.42 320.42 L583.36 322.34 L586.22 324.32 L589.15 326.30 L592.09 328.28 L595.03 330.27 L597.89 332.31 L600.82 334.35 L603.76 336.40 L606.62 338.44 L609.56 340.55 L612.50 342.66 L615.36 344.76 L618.29 346.87 L621.23 349.04 L624.09 351.20 L627.03 353.37 L629.96 355.54 L632.82 357.77 L635.76 360.00 L638.70 362.23 L641.56 364.52 L644.49 366.75 L647.43 369.11 L650.29 371.40 L653.23 373.75 L656.17 376.11 L659.02 378.46 L661.96 380.88 L664.90 383.30 L667.84 385.71 L670.70 388.19 L673.63 390.67 L676.57 393.15 L679.43 395.69 L682.37 398.22 L685.31 400.76 L688.16 403.37 L691.10 405.97 L694.04 408.63 L696.90 411.30 L699.84 413.96 L702.77 416.69 L705.63 419.41 L708.57 422.20 L711.51 424.99 L714.37 427.78 L717.30 430.62 L720.24 433.54 L723.10 436.39 L726.04 439.36 L728.98 442.27 L731.83 445.31 L734.77 448.28 L737.71 451.32 L740.65 454.41 L743.51 457.51 L746.44 460.67 L749.38 463.83 L752.24 466.99 L755.18 470.21 L758.12 473.49 L760.97 476.78 L763.91 480.12 L766.85 483.47 L769.71 486.88 L772.65 490.28 L775.58 493.81 L778.44 497.35 L781.38 500.88 L784.32 504.53 L787.18 508.19 L790.11 511.97 L793.05 515.74 L795.91 519.59 L798.85 523.55 L801.79 527.51 L804.64 531.60 L807.58 535.69 L810.52 539.90 L813.38 544.18 L816.32 548.52 L819.25 552.98 L822.19 557.44 L825.05 562.02 L827.99 566.67 L830.93 571.31 L833.78 576.08 L836.72 580.79 L839.66 585.56 L842.52 590.39 L845.46 595.16 L848.39 599.93 L851.25 604.70 L854.19 609.47 L857.13 614.18 L859.99 618.83 L862.92 623.48 L865.86 628.00 L868.72 632.46 L871.66 636.79 L874.60 641.01 L877.45 645.10 L880.39 649.00 L883.33 652.78 L886.19 656.31 L889.13 659.65 L892.06 662.75 L895.00 665.66 L897.86 668.27 L900.80 670.62 L903.74 672.73 L906.59 674.46 L909.53 675.88 L912.47 677.00 L915.33 677.00 L918.27 677.00 L921.20 677.00 L924.06 677.00 L927.00 677.00"/>
<path stroke="#39a940" stroke-dasharray="14.3 13.7" d="M133.00 57.50 L134.59 60.41 L136.18 63.01 L137.76 65.37 L139.35 67.66 L140.94 69.83 L142.53 71.93 L144.12 73.92 L145.70 75.84 L147.29 77.63 L148.88 79.37 L150.47 81.04 L152.06 82.65 L153.64 84.14 L155.23 85.63 L156.82 86.99 L158.41 88.35 L160.00 89.59 L161.58 90.89 L163.17 92.07 L164.76 93.25 L166.35 94.30 L167.94 95.41 L169.52 96.40 L171.11 97.46 L172.70 98.39 L175.64 100.18 L178.50 101.86 L181.43 103.47 L184.37 105.08 L187.23 106.63 L190.17 108.24 L193.11 109.66 L195.96 111.21 L198.90 112.76 L201.84 114.31 L204.70 115.86 L207.64 117.41 L210.57 118.95 L213.51 120.44 L216.37 122.05 L219.31 123.60 L222.25 125.09 L225.10 126.70 L228.04 128.18 L230.98 129.80 L233.84 131.34 L236.78 132.89 L239.71 134.50 L242.57 135.99 L245.51 137.60 L248.45 139.15 L251.31 140.70 L254.24 142.25 L257.18 143.86 L260.04 145.41 L262.98 146.96 L265.92 148.50 L268.77 150.12 L271.71 151.66 L274.65 153.27 L277.51 154.82 L280.45 156.37 L283.38 157.98 L286.32 159.59 L289.18 161.08 L292.12 162.69 L295.06 164.30 L297.91 165.91 L300.85 167.46 L303.79 169.07 L306.65 170.62 L309.59 172.23 L312.52 173.78 L315.38 175.39 L318.32 176.94 L321.26 178.55 L324.12 180.16 L327.05 181.77 L329.99 183.32 L332.85 184.93 L335.79 186.54 L338.73 188.09 L341.58 189.70 L344.52 191.25 L347.46 192.86 L350.32 194.47 L353.26 196.02 L356.19 197.63 L359.05 199.18 L361.99 200.79 L364.93 202.34 L367.87 203.89 L370.72 205.50 L373.66 207.05 L376.60 208.66 L379.46 210.14 L382.40 211.76 L385.33 213.30 L388.19 214.91 L391.13 216.53 L394.07 218.07 L396.93 219.69 L399.86 221.30 L402.80 222.84 L405.66 224.39 L408.60 226.00 L411.54 227.61 L414.39 229.16 L417.33 230.77 L420.27 232.32 L423.13 233.93 L426.07 235.54 L429.00 237.09 L431.86 238.70 L434.80 240.25 L437.74 241.86 L440.68 243.47 L443.53 245.02 L446.47 246.63 L449.41 248.18 L452.27 249.79 L455.21 251.34 L458.14 252.95 L461.00 254.50 L463.94 256.17 L466.88 257.78 L469.74 259.40 L472.67 261.01 L475.61 262.62 L478.47 264.23 L481.41 265.84 L484.35 267.45 L487.20 269.12 L490.14 270.73 L493.08 272.40 L495.94 274.08 L498.88 275.75 L501.81 277.42 L504.67 279.10 L507.61 280.83 L510.55 282.50 L513.48 284.24 L516.34 285.91 L519.28 287.64 L522.22 289.38 L525.08 291.11 L528.01 292.85 L530.95 294.64 L533.81 296.38 L536.75 298.18 L539.69 299.91 L542.55 301.71 L545.48 303.57 L548.42 305.36 L551.28 307.16 L554.22 309.08 L557.15 310.94 L560.01 312.80 L562.95 314.65 L565.89 316.51 L568.75 318.43 L571.68 320.29 L574.62 322.21 L577.48 324.13 L580.42 326.12 L583.36 328.04 L586.22 330.02 L589.15 332.00 L592.09 333.98 L595.03 335.97 L597.89 338.07 L600.82 340.12 L603.76 342.16 L606.62 344.20 L609.56 346.31 L612.50 348.42 L615.36 350.59 L618.29 352.69 L621.23 354.86 L624.09 357.09 L627.03 359.32 L629.96 361.49 L632.82 363.78 L635.76 366.07 L638.70 368.37 L641.56 370.72 L644.49 373.01 L647.43 375.43 L650.29 377.72 L653.23 380.14 L656.17 382.55 L659.02 384.97 L661.96 387.45 L664.90 389.86 L667.84 392.34 L670.70 394.82 L673.63 397.36 L676.57 399.84 L679.43 402.38 L682.37 404.92 L685.31 407.46 L688.16 410.00 L691.10 412.54 L694.04 415.14 L696.90 417.74 L699.84 420.28 L702.77 422.94 L705.63 425.54 L708.57 428.21 L711.51 430.93 L714.37 433.60 L717.30 436.32 L720.24 439.05 L723.10 441.71 L726.04 444.44 L728.98 447.17 L731.83 449.95 L734.77 452.68 L737.71 455.53 L740.65 458.38 L743.51 461.29 L746.44 464.26 L749.38 467.30 L752.24 470.33 L755.18 473.49 L758.12 476.65 L760.97 479.88 L763.91 483.16 L766.85 486.44 L769.71 489.79 L772.65 493.13 L775.58 496.60 L778.44 500.07 L781.38 503.54 L784.32 507.13 L787.18 510.73 L790.11 514.51 L793.05 518.22 L795.91 522.00 L798.85 525.90 L801.79 529.87 L804.64 533.90 L807.58 537.92 L810.52 542.07 L813.38 546.29 L816.32 550.56 L819.25 554.96 L822.19 559.36 L825.05 563.82 L827.99 568.40 L830.93 572.92 L833.78 577.57 L836.72 582.09 L839.66 586.74 L842.52 591.45 L845.46 596.03 L848.39 600.68 L851.25 605.26 L854.19 609.91 L857.13 614.49 L859.99 619.01 L862.92 623.60 L865.86 628.06 L868.72 632.46 L871.66 636.79 L874.60 641.01 L877.45 645.10 L880.39 649.00 L883.33 652.78 L886.19 656.31 L889.13 659.65 L892.06 662.75 L895.00 665.66 L897.86 668.27 L900.80 670.62 L903.74 672.73 L906.59 674.46 L909.53 675.88 L912.47 677.00 L915.33 677.00 L918.27 677.00 L921.20 677.00 L924.06 677.00 L927.00 677.00"/>
</g>
<g class="t">
<text x="133.00" y="719.6" text-anchor="middle">0</text>
<text x="291.80" y="719.6" text-anchor="middle">0.2</text>
<text x="450.60" y="719.6" text-anchor="middle">0.4</text>
<text x="609.40" y="719.6" text-anchor="middle">0.6</text>
<text x="768.20" y="719.6" text-anchor="middle">0.8</text>
<text x="927.00" y="719.6" text-anchor="middle">1</text>
<text x="123.2" y="689.10" text-anchor="end">0</text>
<text x="123.2" y="565.20" text-anchor="end">0.2</text>
<text x="123.2" y="441.30" text-anchor="end">0.4</text>
<text x="123.2" y="317.40" text-anchor="end">0.6</text>
<text x="123.2" y="193.50" text-anchor="end">0.8</text>
<text x="123.2" y="69.60" text-anchor="end">1</text>
</g>
<text class="m" x="482" y="759.6" style="font-size:34px;fill:#262626">θ</text>
<text class="t" x="506.9" y="759.6" style="font-size:33.5px">[MH]</text>
<g transform="translate(59.3,419.5) rotate(-90)" fill="#262626"><text class="m" x="-0.5" y="0" style="font-size:34px">F</text><rect x="9.3" y="-28.9" width="10.2" height="1.4"/><text class="r" x="21.6" y="6.3" style="font-size:22.6px;letter-spacing:0.3px">SIR</text><text class="r" x="60.3" y="1" style="font-size:37px">(</text><text class="m" x="71.5" y="0" style="font-size:34px">θ</text><text class="r" x="88.5" y="1" style="font-size:37px">)</text></g>
<rect x="732.5" y="71.5" width="181" height="167" fill="#ffffff" stroke="#363636" stroke-width="1"/>
<line x1="739.3" y1="94.7" x2="794.2" y2="94.7" stroke="#dc0f18" stroke-width="4"/>
<text class="m" transform="translate(800,107.7) scale(1.36,1)" style="font-size:28.5px;fill:#111">α</text>
<text class="lg" x="820.2" y="107.7">=2.1</text>
<line x1="739.3" y1="135.1" x2="794.2" y2="135.1" stroke="#0a04d2" stroke-width="4"/>
<text class="m" transform="translate(800,148.1) scale(1.36,1)" style="font-size:28.5px;fill:#111">α</text>
<text class="lg" x="820.2" y="148.1">=2.25</text>
<line x1="739.3" y1="175.5" x2="794.2" y2="175.5" stroke="#6f307d" stroke-width="4"/>
<text class="m" transform="translate(800,188.5) scale(1.36,1)" style="font-size:28.5px;fill:#111">α</text>
<text class="lg" x="820.2" y="188.5">=2.5</text>
<line x1="739.3" y1="215.9" x2="794.2" y2="215.9" stroke="#39a940" stroke-width="4"/>
<text class="m" transform="translate(800,228.9) scale(1.36,1)" style="font-size:28.5px;fill:#111">α</text>
<text class="lg" x="820.2" y="228.9">=3</text>
</svg></body></html>
